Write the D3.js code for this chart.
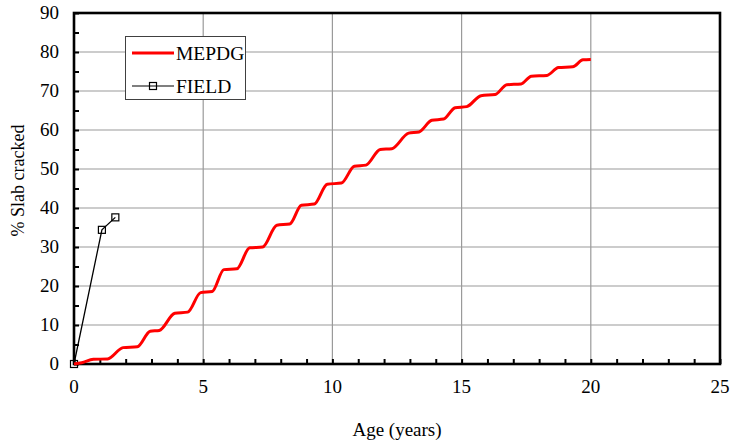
<!DOCTYPE html>
<html><head><meta charset="utf-8">
<script src="https://cdn.jsdelivr.net/npm/d3@7"></script>
<style>body{margin:0;background:#fff;}</style>
</head><body><svg id="c" width="730" height="444" font-family="'Liberation Serif', 'Times New Roman', 'DejaVu Serif', serif"></svg>
<script>
const mepdgAge = [0, 0.3, 0.75, 1.3, 1.9, 2.45, 2.95, 3.3, 3.9, 4.4, 4.9, 5.35, 5.8, 6.3, 6.8, 7.3, 7.85, 8.35, 8.8, 9.3, 9.8, 10.35, 10.85, 11.3, 11.85, 12.3, 12.95, 13.35, 13.85, 14.3, 14.75, 15.2, 15.75, 16.3, 16.75, 17.3, 17.7, 18.3, 18.75, 19.3, 19.7, 20.0];
const mepdgVal = [0, 0.3, 1.2, 1.3, 4.2, 4.4, 8.4, 8.6, 13.0, 13.3, 18.3, 18.6, 24.2, 24.4, 29.8, 30.0, 35.6, 35.9, 40.7, 41.0, 46.1, 46.4, 50.7, 51.0, 55.0, 55.2, 59.2, 59.5, 62.5, 62.8, 65.7, 66.0, 68.8, 69.1, 71.6, 71.8, 73.8, 74.0, 76.0, 76.2, 78.0, 78.1];
const fieldAge = [0, 1.08, 1.6];
const fieldVal = [0, 34.4, 37.6];
const xTicks = [0, 5, 10, 15, 20, 25];
const yTicks = [0, 10, 20, 30, 40, 50, 60, 70, 80, 90];
const seriesNames = ["MEPDG", "FIELD"];

const FONT = "'Liberation Serif', 'Times New Roman', 'DejaVu Serif', serif";
const svg = d3.select("#c");
const L = 74, R = 720, T = 13, B = 364;
const x = d3.scaleLinear().domain([0, 25]).range([L, R]);
const y = d3.scaleLinear().domain([0, 90]).range([B, T]);

// grid
svg.append("g").selectAll("line").data(xTicks.slice(1, -1)).join("line")
  .attr("x1", d => x(d)).attr("x2", d => x(d)).attr("y1", T).attr("y2", B)
  .attr("stroke", "#9a9a9a").attr("stroke-width", 1.2);
svg.append("g").selectAll("line").data(yTicks.slice(1, -1)).join("line")
  .attr("y1", d => y(d)).attr("y2", d => y(d)).attr("x1", L).attr("x2", R)
  .attr("stroke", "#9a9a9a").attr("stroke-width", 1.2);

// axes
const xAxis = d3.axisBottom(x).tickValues(d3.range(0, 26, 1)).tickSize(-5).tickFormat("");
const gx = svg.append("g").attr("transform", `translate(0,${B})`).call(xAxis);
gx.select(".domain").remove();
gx.selectAll(".tick line").attr("stroke", "#000").attr("stroke-width", 2);
svg.append("g").selectAll("text").data(xTicks).join("text")
  .attr("x", d => x(d)).attr("y", B + 29).attr("text-anchor", "middle")
  .attr("font-family", FONT).attr("font-size", 19).text(d => d);

const yAxis = d3.axisLeft(y).tickValues(d3.range(0, 91, 5)).tickSize(-5).tickFormat("");
const gy = svg.append("g").attr("transform", `translate(${L},0)`).call(yAxis);
gy.select(".domain").remove();
gy.selectAll(".tick line").attr("stroke", "#000").attr("stroke-width", 2);
svg.append("g").selectAll("text").data(yTicks).join("text")
  .attr("x", L - 15).attr("y", d => y(d) + 6).attr("text-anchor", "end")
  .attr("font-family", FONT).attr("font-size", 19).text(d => d);

// frame
svg.append("rect").attr("x", L).attr("y", T).attr("width", R - L).attr("height", B - T)
  .attr("fill", "none").attr("stroke", "#000").attr("stroke-width", 2.6);

// field series
const fieldPts = fieldAge.map((a, i) => [a, fieldVal[i]]);
svg.append("path").datum(fieldPts)
  .attr("d", d3.line().x(d => x(d[0])).y(d => y(d[1])))
  .attr("fill", "none").attr("stroke", "#000").attr("stroke-width", 1.3);
svg.append("g").selectAll("rect").data(fieldPts).join("rect")
  .attr("x", d => x(d[0]) - 3.5).attr("y", d => y(d[1]) - 3.5)
  .attr("width", 7).attr("height", 7).attr("fill", "none").attr("stroke", "#000").attr("stroke-width", 1.2);

// MEPDG series
const mepdgPts = mepdgAge.map((a, i) => [a, mepdgVal[i]]);
svg.append("path").datum(mepdgPts)
  .attr("d", d3.line().curve(d3.curveMonotoneX).x(d => x(d[0])).y(d => y(d[1])))
  .attr("fill", "none").attr("stroke", "#ff0000").attr("stroke-width", 3);

// legend
const lg = svg.append("g");
lg.append("rect").attr("x", 125.5).attr("y", 36.5).attr("width", 120).attr("height", 63)
  .attr("fill", "#fff").attr("stroke", "#404040").attr("stroke-width", 1);
lg.append("line").attr("x1", 132).attr("x2", 174).attr("y1", 53).attr("y2", 53)
  .attr("stroke", "#ff0000").attr("stroke-width", 3);
lg.append("text").attr("x", 176).attr("y", 60).attr("font-family", FONT).attr("font-size", 19.5).text(seriesNames[0]);
lg.append("line").attr("x1", 132).attr("x2", 174).attr("y1", 86).attr("y2", 86)
  .attr("stroke", "#000").attr("stroke-width", 1.2);
lg.append("rect").attr("x", 149.5).attr("y", 82.5).attr("width", 7).attr("height", 7)
  .attr("fill", "none").attr("stroke", "#000").attr("stroke-width", 1.2);
lg.append("text").attr("x", 176).attr("y", 93).attr("font-family", FONT).attr("font-size", 19.5).text(seriesNames[1]);

// axis titles
svg.append("text").attr("x", (L + R) / 2).attr("y", 436).attr("text-anchor", "middle")
  .attr("font-family", FONT).attr("font-size", 19).text("Age (years)");
svg.append("text").attr("transform", `translate(24,${(T + B) / 2 - 8}) rotate(-90)`)
  .attr("text-anchor", "middle").attr("font-family", FONT).attr("font-size", 18).text("% Slab cracked");
</script></body></html>
